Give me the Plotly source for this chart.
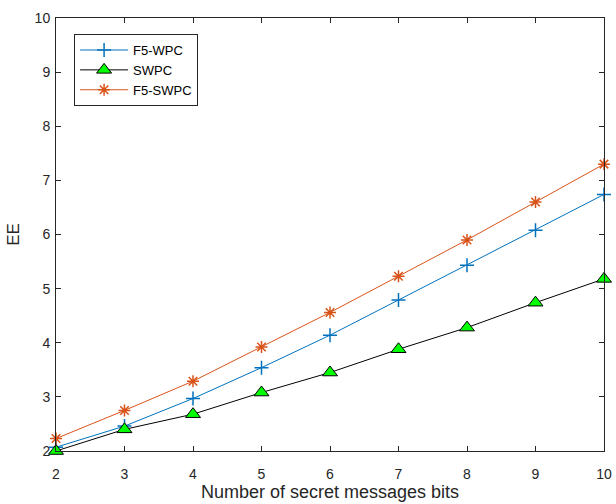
import plotly.graph_objects as go

bits = [2, 3, 4, 5, 6, 7, 8, 9, 10]
f5_wpc = [2.07, 2.46, 2.97, 3.54, 4.14, 4.79, 5.43, 6.08, 6.74]
swpc = [2.00, 2.40, 2.68, 3.08, 3.45, 3.88, 4.28, 4.74, 5.18]
f5_swpc = [2.23, 2.75, 3.29, 3.92, 4.56, 5.23, 5.90, 6.60, 7.30]
x_ticks = [2, 3, 4, 5, 6, 7, 8, 9, 10]
y_ticks = [2, 3, 4, 5, 6, 7, 8, 9, 10]

FONT = "Liberation Sans, Arial, sans-serif"

fig = go.Figure()
fig.add_trace(go.Scatter(
    x=bits, y=f5_wpc, name="F5-WPC", mode="lines+markers",
    line=dict(color="#0072BD", width=1),
    marker=dict(symbol="cross-thin", size=10, line=dict(color="#0072BD", width=1.5)),
    cliponaxis=False,
))
fig.add_trace(go.Scatter(
    x=bits, y=swpc, name="SWPC", mode="lines+markers",
    line=dict(color="#000000", width=1),
    marker=dict(symbol="triangle-up", size=13, color="#00FF00", line=dict(color="#000000", width=1)),
    cliponaxis=False,
))
fig.add_trace(go.Scatter(
    x=bits, y=f5_swpc, name="F5-SWPC", mode="lines+markers",
    line=dict(color="#D95319", width=1),
    marker=dict(symbol="asterisk-open", size=10, line=dict(color="#D95319", width=1.5)),
    cliponaxis=False,
))

axis_common = dict(
    showline=True, linecolor="#262626", linewidth=1, mirror="allticks",
    ticks="inside", ticklen=5, tickcolor="#262626", showgrid=False, zeroline=False,
    automargin=False,
    tickfont=dict(family=FONT, size=14, color="#262626"),
)
fig.update_xaxes(range=[2, 10], tickvals=x_ticks, ticktext=[str(v) for v in x_ticks],
                 ticklabelstandoff=10,
                 title=dict(text="Number of secret messages bits", standoff=4,
                            font=dict(family=FONT, size=18, color="#262626")),
                 **axis_common)
fig.update_yaxes(range=[2, 10], tickvals=y_ticks, ticktext=[str(v) for v in y_ticks],
                 ticklabelstandoff=2,
                 title=dict(text="EE", standoff=10,
                            font=dict(family=FONT, size=17, color="#262626")),
                 **axis_common)

fig.update_layout(
    width=616, height=504,
    margin=dict(l=56, r=12, t=18, b=53),
    paper_bgcolor="white", plot_bgcolor="white",
    showlegend=True,
    legend=dict(x=0.033, y=0.963, xanchor="left", yanchor="top",
                bgcolor="white", bordercolor="#262626", borderwidth=1,
                font=dict(family=FONT, size=13, color="#000000"),
                tracegroupgap=0, itemwidth=48),
)

fig.write_html("out.html",
               config={"displayModeBar": False},
               post_script="document.body.style.margin='0';document.body.style.overflow='hidden';")
